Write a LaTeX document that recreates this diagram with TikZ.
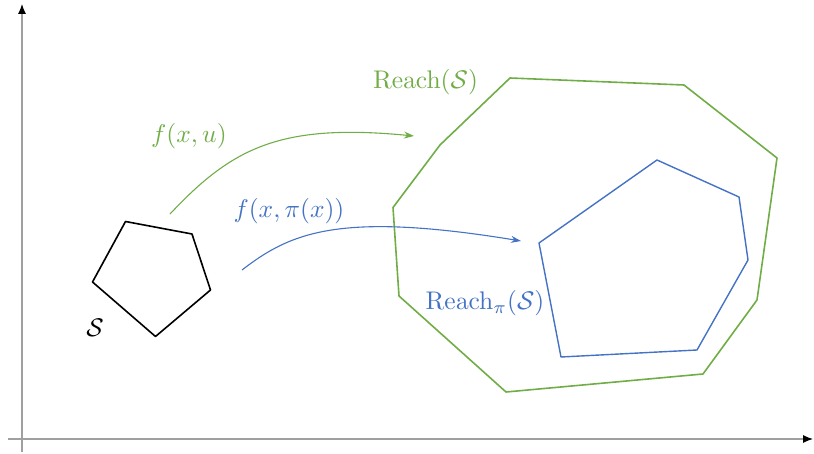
\documentclass[tikz,border=0pt]{standalone}
\usetikzlibrary{arrows.meta}
\definecolor{rgreen}{RGB}{112,173,71}
\definecolor{rblue}{RGB}{68,114,196}
\definecolor{axgray}{RGB}{160,160,160}
\begin{document}
\begin{tikzpicture}[x=1pt,y=-1pt,
  axis/.style={draw=axgray,line width=1.1pt,-{Latex[color=black,length=10pt,width=8pt]}},
  gpoly/.style={draw=rgreen,line width=1.6pt,line join=round},
  bpoly/.style={draw=rblue,line width=1.4pt,line join=round},
  spoly/.style={draw=black,line width=1.6pt,line join=round},
  garrow/.style={draw=rgreen,line width=1.1pt,-{Stealth[length=10pt,width=7pt]}},
  barrow/.style={draw=rblue,line width=1.1pt,-{Stealth[length=10pt,width=7pt]}},
  lbl/.style={inner sep=0pt,font=\normalsize,scale=2.55}]
\useasboundingbox (0,0) rectangle (814,454);
% axes
\coordinate (yb) at (22,452);
\coordinate (yt) at (22,4);
\coordinate (xl) at (8,439);
\coordinate (xr) at (813,439);
\draw[axis] (yb) -- (yt);
\draw[axis] (xl) -- (xr);
% set S
\draw[spoly] (125.5,221.5) -- (192,234) -- (210.5,290) -- (155.5,336.5) -- (92.5,282) -- cycle;
\node[lbl] (S) at (95,328) {$\mathcal{S}$};
% Reach(S)
\draw[gpoly] (510,78) -- (684,85) -- (777,158) -- (757,300) -- (703,374) -- (506,392) -- (399,296) -- (393,207.5) -- (440,145) -- cycle;
\node[lbl,text=rgreen] (R) at (425.5,82) {$\mathrm{Reach}(\mathcal{S})$};
% Reach_pi(S)
\draw[bpoly] (539,243) -- (657,160) -- (739,197) -- (748,260) -- (697,350) -- (561,357) -- cycle;
\node[lbl,text=rblue] (Rp) at (485,303) {$\mathrm{Reach}_\pi(\mathcal{S})$};
% arrows
\coordinate (g0) at (170,214);
\coordinate (g1) at (414,136);
\draw[garrow] (g0) .. controls (232,148) and (280,123) .. (g1);
\node[lbl,text=rgreen] (fu) at (189,136) {$f(x,u)$};
\coordinate (b0) at (242,270);
\coordinate (b1) at (521,241);
\draw[barrow] (b0) .. controls (290,233) and (338,211) .. (b1);
\node[lbl,text=rblue] (fp) at (289,211) {$f(x,\pi(x))$};
\end{tikzpicture}
\end{document}
